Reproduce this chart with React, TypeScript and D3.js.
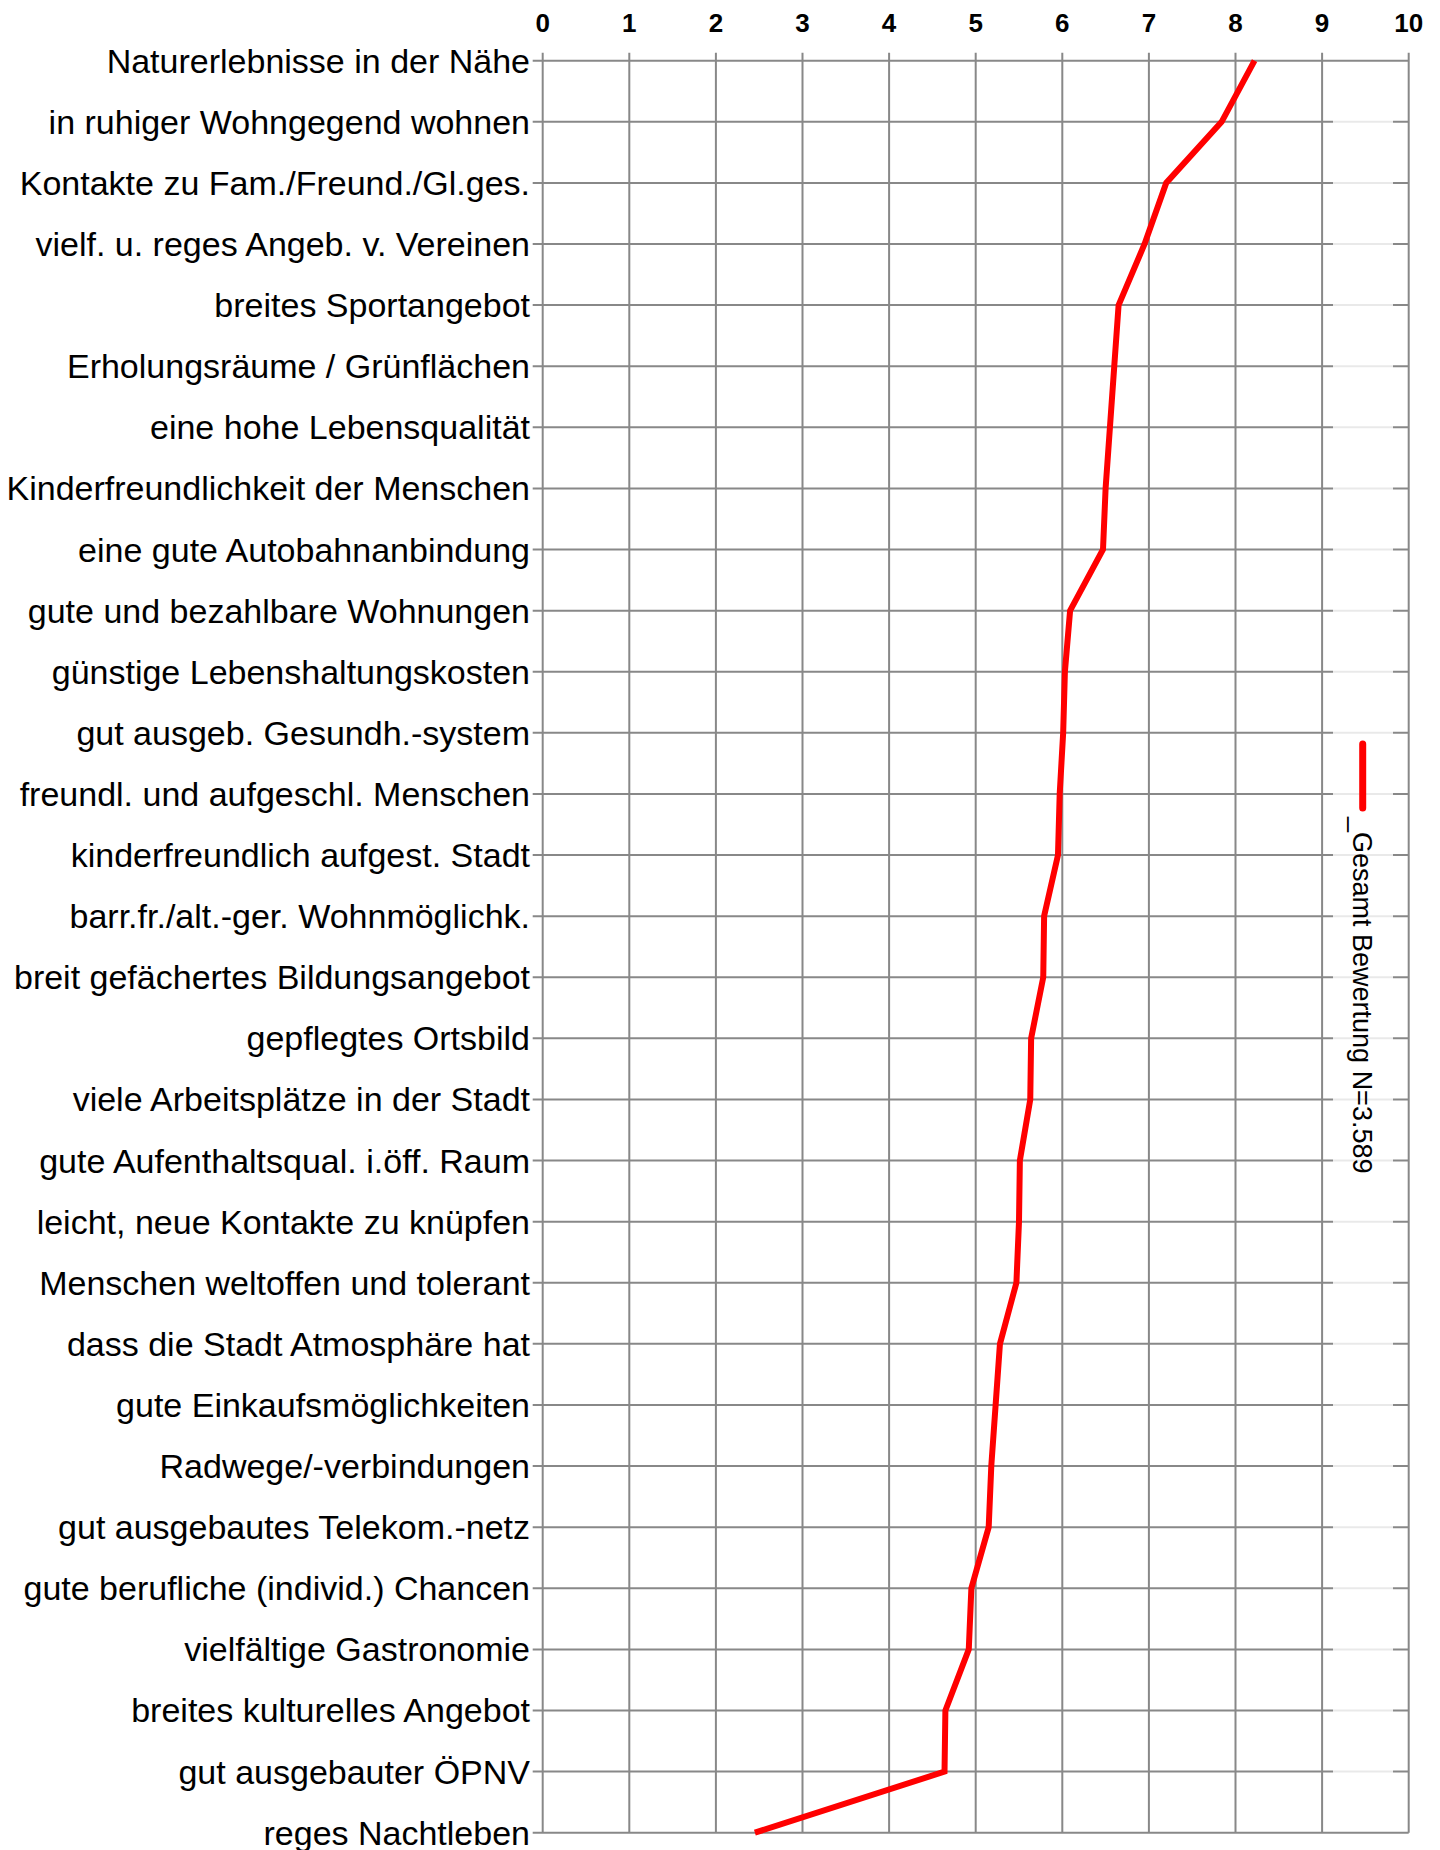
import React from "react";
import * as d3 from "d3";

const categories: string[] = [
  "Naturerlebnisse in der Nähe",
  "in ruhiger Wohngegend wohnen",
  "Kontakte zu Fam./Freund./Gl.ges.",
  "vielf. u. reges Angeb. v. Vereinen",
  "breites Sportangebot",
  "Erholungsräume / Grünflächen",
  "eine hohe Lebensqualität",
  "Kinderfreundlichkeit der Menschen",
  "eine gute Autobahnanbindung",
  "gute und bezahlbare Wohnungen",
  "günstige Lebenshaltungskosten",
  "gut ausgeb. Gesundh.-system",
  "freundl. und aufgeschl. Menschen",
  "kinderfreundlich aufgest. Stadt",
  "barr.fr./alt.-ger. Wohnmöglichk.",
  "breit gefächertes Bildungsangebot",
  "gepflegtes Ortsbild",
  "viele Arbeitsplätze in der Stadt",
  "gute Aufenthaltsqual. i.öff. Raum",
  "leicht, neue Kontakte zu knüpfen",
  "Menschen weltoffen und tolerant",
  "dass die Stadt Atmosphäre hat",
  "gute Einkaufsmöglichkeiten",
  "Radwege/-verbindungen",
  "gut ausgebautes Telekom.-netz",
  "gute berufliche (individ.) Chancen",
  "vielfältige Gastronomie",
  "breites kulturelles Angebot",
  "gut ausgebauter ÖPNV",
  "reges Nachtleben",
];

const gesamtValues: number[] = [
  8.22, 7.84, 7.2, 6.95, 6.65, 6.6, 6.55, 6.5, 6.47, 6.09, 6.03, 6.01, 5.97,
  5.95, 5.79, 5.78, 5.64, 5.63, 5.51, 5.5, 5.47, 5.28, 5.23, 5.18, 5.15, 4.95,
  4.92, 4.65, 4.64, 2.45,
];

const xTicks: number[] = [0, 1, 2, 3, 4, 5, 6, 7, 8, 9, 10];
const legendLabel = "_Gesamt Bewertung N=3.589";

const FONT = "'Liberation Sans', Arial, Helvetica, sans-serif";

export default function App() {
  const W = 1440;
  const H = 1850;
  const x = d3.scaleLinear().domain([0, 10]).range([542.7, 1408.7]);
  const y = d3.scalePoint<string>().domain(categories).range([60.7, 1832.7]);
  const yTop = y(categories[0]) as number;
  const yBot = y(categories[categories.length - 1]) as number;

  const line = d3
    .line<number>()
    .x((d) => x(d))
    .y((_, i) => y(categories[i]) as number);

  const grid = "#888888";

  return (
    <svg
      width={W}
      height={H}
      style={{ position: "absolute", left: 0, top: 0, background: "#fff" }}
      fontFamily={FONT}
    >
      <rect x={0} y={0} width={W} height={H} fill="#fff" />
      {/* vertical grid */}
      {xTicks.map((t) => (
        <line
          key={"v" + t}
          x1={x(t)}
          x2={x(t)}
          y1={yTop - 8}
          y2={yBot}
          stroke={grid}
          strokeWidth={2}
        />
      ))}
      {/* horizontal grid */}
      {categories.map((c) => (
        <line
          key={"h" + c}
          x1={x(0) - 10}
          x2={x(10)}
          y1={y(c)}
          y2={y(c)}
          stroke={grid}
          strokeWidth={2}
        />
      ))}
      {/* legend box background */}
      <rect x={1333} y={95} width={60} height={1705} fill="#fff" opacity={0.82} />
      {/* tick labels */}
      {xTicks.map((t) => (
        <text
          key={"t" + t}
          x={x(t)}
          y={32}
          textAnchor="middle"
          fontSize={26}
          fontWeight="bold"
          fill="#000"
        >
          {t}
        </text>
      ))}
      {/* category labels */}
      {categories.map((c) => (
        <text
          key={"l" + c}
          x={530}
          y={(y(c) as number) + 12}
          textAnchor="end"
          fontSize={34}
          fill="#000"
        >
          {c}
        </text>
      ))}
      {/* data line */}
      <path
        d={line(gesamtValues) || ""}
        fill="none"
        stroke="#ff0000"
        strokeWidth={6}
        strokeLinejoin="miter"
      />
      {/* legend */}
      <line
        x1={1362.7}
        x2={1362.7}
        y1={744}
        y2={808}
        stroke="#ff0000"
        strokeWidth={7}
        strokeLinecap="round"
      />
      <text
        transform="translate(1353,817) rotate(90)"
        fontSize={27}
        fill="#000"
      >
        {legendLabel}
      </text>
    </svg>
  );
}
